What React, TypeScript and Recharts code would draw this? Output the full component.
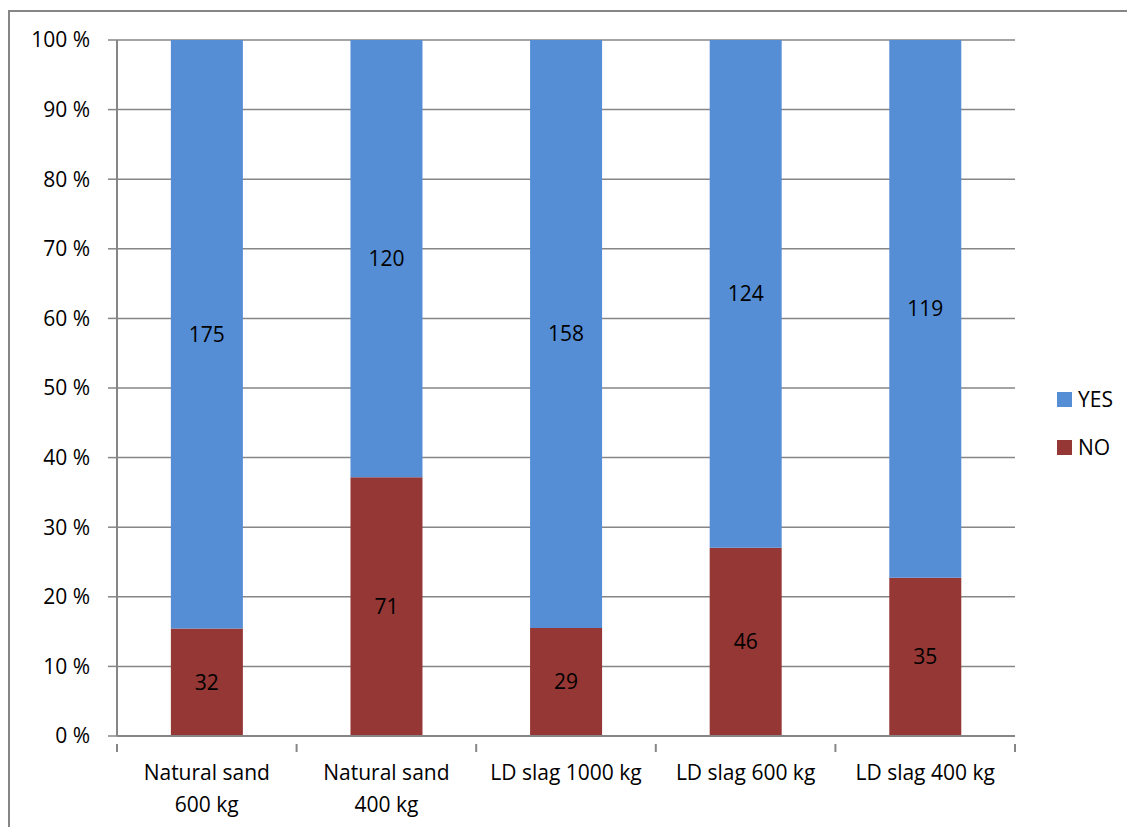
import React from "react";
import {
  BarChart,
  Bar,
  XAxis,
  YAxis,
  CartesianGrid,
  LabelList,
} from "recharts";

const categories = [
  "Natural sand\n600 kg",
  "Natural sand\n400 kg",
  "LD slag 1000 kg",
  "LD slag 600 kg",
  "LD slag 400 kg",
];
const yesCounts = [175, 120, 158, 124, 119];
const noCounts = [32, 71, 29, 46, 35];
const yTicks = [0, 0.1, 0.2, 0.3, 0.4, 0.5, 0.6, 0.7, 0.8, 0.9, 1];

const series = [
  { key: "yes", name: "YES", color: "#558ED5" },
  { key: "no", name: "NO", color: "#953735" },
];

const data = categories.map((name, i) => ({
  name,
  yes: yesCounts[i],
  no: noCounts[i],
}));

const FONT = "'Open Sans', sans-serif";
const FS = 21;
const GRID = "#868686";
const W = 1125;
const H = 815;
const M = { top: 28, right: 120, left: 0, bottom: 21 };
const Y_W = 107;
const BAND = (W - M.right - M.left - Y_W) / categories.length;

function XTick(props: any) {
  const { x, y, payload, index } = props;
  const lines = String(payload.value).split("\n");
  return (
    <g>
      <line x1={x - BAND / 2} x2={x - BAND / 2} y1={y} y2={y + 8} stroke={GRID} strokeWidth={2} />
      {index === categories.length - 1 && (
        <line x1={x + BAND / 2} x2={x + BAND / 2} y1={y} y2={y + 8} stroke={GRID} strokeWidth={2} />
      )}
      <text x={x} y={y + 36} textAnchor="middle" fontSize={FS} fill="#000" fontFamily={FONT}>
        {lines.map((l, i) => (
          <tspan key={i} x={x} dy={i === 0 ? 0 : 32}>
            {l}
          </tspan>
        ))}
      </text>
    </g>
  );
}

export default function App() {
  return (
    <div
      style={{
        position: "relative",
        marginTop: 2,
        borderLeft: `2px solid ${GRID}`,
        borderTop: `2px solid ${GRID}`,
        width: W,
        height: H,
        background: "#fff",
      }}
    >
      <BarChart width={W} height={H} data={data} margin={M} stackOffset="expand" barCategoryGap="30%">
        <CartesianGrid vertical={false} stroke={GRID} strokeWidth={1.5} />
        <XAxis
          dataKey="name"
          interval={0}
          tick={<XTick />}
          tickLine={false}
          axisLine={{ stroke: GRID, strokeWidth: 2 }}
          height={70}
        />
        <YAxis
          width={Y_W}
          ticks={yTicks}
          domain={[0, 1]}
          tickFormatter={(v: number) => `${Math.round(v * 100)} %`}
          tick={{ fontSize: FS, fill: "#000", fontFamily: FONT }}
          tickSize={9}
          tickMargin={18}
          tickLine={{ stroke: GRID, strokeWidth: 1.5 }}
          axisLine={{ stroke: GRID, strokeWidth: 2 }}
        />
        <Bar dataKey="no" name="NO" stackId="a" fill="#953735" isAnimationActive={false}>
          <LabelList dataKey="no" position="center" fill="#000" fontSize={FS} fontFamily={FONT} />
        </Bar>
        <Bar dataKey="yes" name="YES" stackId="a" fill="#558ED5" isAnimationActive={false}>
          <LabelList dataKey="yes" position="center" fill="#000" fontSize={FS} fontFamily={FONT} />
        </Bar>
      </BarChart>
      <div style={{ position: "absolute", left: 1047, top: 363, fontFamily: FONT, fontSize: FS }}>
        {series.map((s) => (
          <div key={s.key} style={{ display: "flex", alignItems: "center", height: 48 }}>
            <span style={{ width: 15, height: 15, background: s.color, marginRight: 6 }} />
            <span>{s.name}</span>
          </div>
        ))}
      </div>
    </div>
  );
}
